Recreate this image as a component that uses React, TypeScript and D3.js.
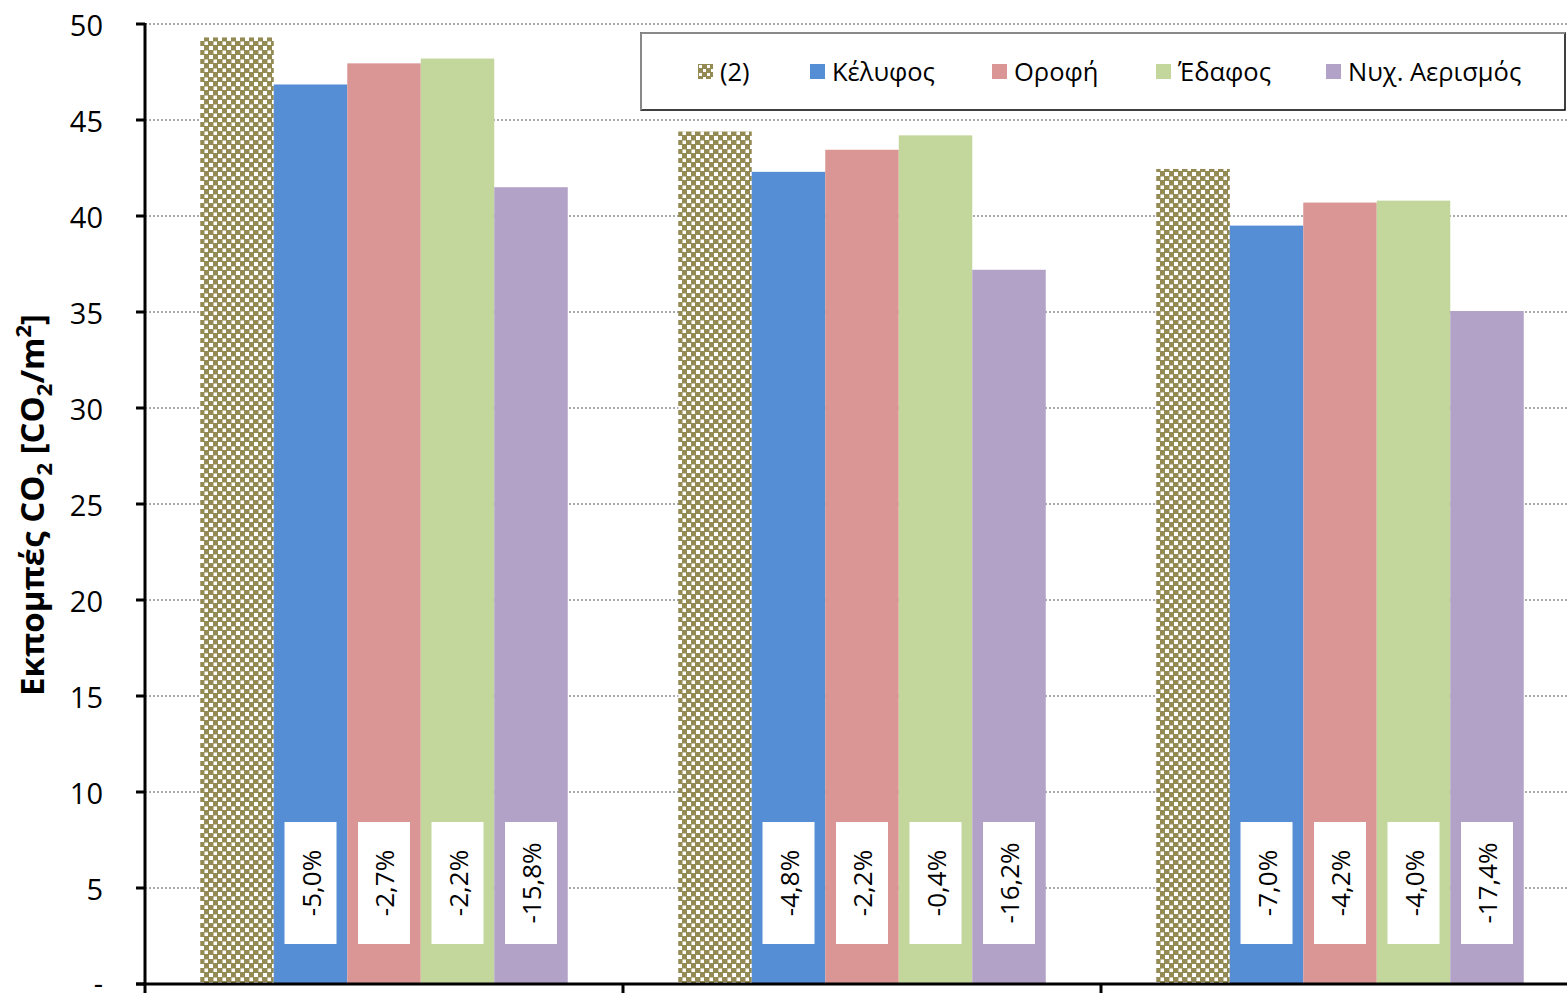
import React from "react";
import * as d3 from "d3";

const groups = ["A", "B", "C"];
const seriesNames = ["(2)", "Κέλυφος", "Οροφή", "Έδαφος", "Νυχ. Αερισμός"];
const seriesColors = ["#948A54", "#558ED5", "#D99694", "#C3D69B", "#B3A2C7"];
const valuesBase = [49.3, 44.4, 42.45];
const valuesKelyfos = [46.85, 42.3, 39.5];
const valuesOrofi = [47.95, 43.45, 40.7];
const valuesEdafos = [48.2, 44.2, 40.8];
const valuesAerismos = [41.5, 37.2, 35.05];
const changeLabels = [
  ["-5,0%", "-2,7%", "-2,2%", "-15,8%"],
  ["-4,8%", "-2,2%", "-0,4%", "-16,2%"],
  ["-7,0%", "-4,2%", "-4,0%", "-17,4%"],
];
const yTicks = [0, 5, 10, 15, 20, 25, 30, 35, 40, 45, 50];

const W = 1567;
const H = 993;
const FONT = "'Open Sans', sans-serif";

export default function App() {
  const left = 145;
  const catW = 478;
  const top = 24;
  const bottom = 984;
  const y = d3.scaleLinear().domain([0, 50]).range([bottom, top]);
  const x0 = d3
    .scaleBand<string>()
    .domain(groups)
    .range([left, left + catW * groups.length])
    .paddingInner(0)
    .paddingOuter(0);
  const gap = 55.25;
  const x1 = d3
    .scaleBand<string>()
    .domain(seriesNames)
    .range([gap, catW - gap])
    .padding(0);
  const allSeries = [valuesBase, valuesKelyfos, valuesOrofi, valuesEdafos, valuesAerismos];
  const bw = x1.bandwidth();

  const legendX = [698, 810, 992, 1156, 1326];

  return (
    <svg width={W} height={H} style={{ position: "absolute", left: 0, top: 0, background: "#fff" }}>
      <defs>
        <pattern id="dots" width={9} height={9} patternUnits="userSpaceOnUse">
          <rect width={9} height={9} fill="#948A54" />
          <rect x={1} y={1} width={4} height={4} fill="#fff" />
          <rect x={5.5} y={5.5} width={3.5} height={3.5} fill="#fff" />
        </pattern>
        <pattern id="dotsLegend" width={8} height={8} patternUnits="userSpaceOnUse" x={698} y={64}>
          <rect width={8} height={8} fill="#948A54" />
          <rect x={1} y={1} width={3} height={3} fill="#fff" />
          <rect x={5} y={5} width={3} height={3} fill="#fff" />
        </pattern>
      </defs>
      {/* gridlines */}
      {yTicks
        .filter((t) => t > 0)
        .map((t) => (
          <line
            key={t}
            x1={left}
            x2={W}
            y1={y(t)}
            y2={y(t)}
            stroke="#555"
            strokeWidth={1}
            strokeDasharray="2,2"
          />
        ))}
      {/* bars */}
      {groups.map((g, gi) => (
        <g key={g} transform={`translate(${x0(g)},0)`}>
          {seriesNames.map((s, si) => {
            const v = allSeries[si][gi];
            return (
              <rect
                key={s}
                x={x1(s)}
                y={y(v)}
                width={bw}
                height={bottom - y(v)}
                fill={si === 0 ? "url(#dots)" : seriesColors[si]}
              />
            );
          })}
          {seriesNames.slice(1).map((s, si) => {
            const cx = (x1(s) as number) + bw / 2;
            const cy = 883;
            return (
              <g key={s}>
                <rect x={cx - 26} y={cy - 61} width={52} height={122} fill="#fff" />
                <text
                  transform={`translate(${cx},${cy}) rotate(-90)`}
                  textAnchor="middle"
                  dominantBaseline="central"
                  fontFamily={FONT}
                  fontSize={26}
                  fill="#000"
                >
                  {changeLabels[gi][si]}
                </text>
              </g>
            );
          })}
        </g>
      ))}
      {/* y axis */}
      <line x1={left} x2={left} y1={top - 1} y2={bottom + 1} stroke="#000" strokeWidth={3} />
      {yTicks.map((t) => (
        <g key={t}>
          <line x1={left - 9} x2={left} y1={y(t)} y2={y(t)} stroke="#000" strokeWidth={3} />
          <text
            x={103}
            y={t === 0 ? y(t) - 2 : y(t)}
            textAnchor="end"
            dominantBaseline="central"
            fontFamily={FONT}
            fontSize={29}
            fill="#000"
          >
            {t === 0 ? "-" : t}
          </text>
        </g>
      ))}
      {/* x axis */}
      <line x1={left - 9} x2={W} y1={bottom} y2={bottom} stroke="#000" strokeWidth={3} />
      {groups.map((g) => (
        <line
          key={g}
          x1={x0(g) as number}
          x2={x0(g) as number}
          y1={bottom}
          y2={H}
          stroke="#000"
          strokeWidth={3}
        />
      ))}
      {/* y title */}
      <text
        transform={`translate(44,505) rotate(-90)`}
        textAnchor="middle"
        fontFamily={FONT}
        fontWeight="bold"
        fontSize={33}
        fill="#000"
      >
        Εκπομπές CO
        <tspan fontSize={22} dy={8}>2</tspan>
        <tspan dy={-8}> [CO</tspan>
        <tspan fontSize={22} dy={8}>2</tspan>
        <tspan dy={-8}>/m</tspan>
        <tspan fontSize={22} dy={-13}>2</tspan>
        <tspan dy={13}>]</tspan>
      </text>
      {/* legend */}
      <rect x={641} y={33} width={924} height={77} fill="#fff" stroke="#000" strokeWidth={1.5} />
      <line x1={641} x2={1565} y1={33} y2={33} stroke="#888" strokeWidth={2} />
      <line x1={641} x2={641} y1={33} y2={110} stroke="#888" strokeWidth={2} />
      {seriesNames.map((s, i) => (
        <g key={s}>
          <rect
            x={legendX[i]}
            y={64}
            width={15}
            height={15}
            fill={i === 0 ? "url(#dotsLegend)" : seriesColors[i]}
          />
          <text
            x={legendX[i] + 22}
            y={71}
            dominantBaseline="central"
            fontFamily={FONT}
            fontSize={25.5}
            fill="#000"
          >
            {s}
          </text>
        </g>
      ))}
    </svg>
  );
}
